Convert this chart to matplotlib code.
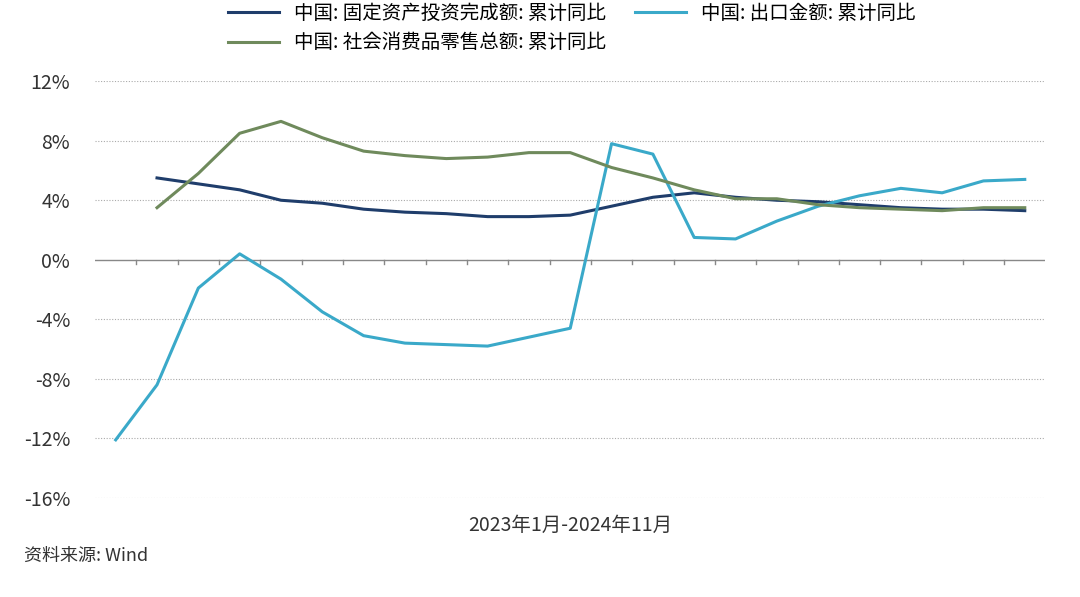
import matplotlib.pyplot as plt
import numpy as np

plt.rcParams['font.family'] = 'sans-serif'
plt.rcParams['font.sans-serif'] = ['Noto Sans CJK SC', 'Noto Sans CJK JP', 'DejaVu Sans']

months = list(range(23))  # 2023-01 .. 2024-11
export_yoy = [-12.1, -8.4, -1.9, 0.4, -1.3, -3.5, -5.1, -5.6, -5.7, -5.8, -5.2, -4.6,
              7.8, 7.1, 1.5, 1.4, 2.6, 3.6, 4.3, 4.8, 4.5, 5.3, 5.4]
fai_yoy = [None, 5.5, 5.1, 4.7, 4.0, 3.8, 3.4, 3.2, 3.1, 2.9, 2.9, 3.0, 3.6,
           4.2, 4.5, 4.2, 4.0, 3.9, 3.7, 3.5, 3.4, 3.4, 3.3]
retail_yoy = [None, 3.5, 5.8, 8.5, 9.3, 8.2, 7.3, 7.0, 6.8, 6.9, 7.2, 7.2, 6.2,
              5.5, 4.7, 4.1, 4.1, 3.7, 3.5, 3.4, 3.3, 3.5, 3.5]
yticks = [12, 8, 4, 0, -4, -8, -12, -16]

fig = plt.figure(figsize=(10.8, 5.97), dpi=100)
ax = fig.add_axes([0.088, 0.166, 0.88, 0.698])

def arr(v):
    return np.array([np.nan if x is None else x for x in v], dtype=float)

l1, = ax.plot(months, arr(fai_yoy), color='#1f3d6b', lw=2.2)
l2, = ax.plot(months, arr(export_yoy), color='#3aa9c9', lw=2.2)
l3, = ax.plot(months, arr(retail_yoy), color='#6f8a5c', lw=2.2)

ax.set_xlim(-0.5, 22.5)
ax.set_ylim(-16, 12)
ax.set_yticks(yticks)
ax.set_yticklabels([f'{t}%' for t in yticks], fontsize=14, color='#333333')
ax.set_xticks([])
for t in yticks:
    if t != 0:
        ax.axhline(t, color='#aaaaaa', lw=0.8, ls=(0, (1, 1.5)), zorder=0)
ax.axhline(0, color='#888888', lw=1, zorder=0)
for i in range(22):
    ax.plot([i + 0.5, i + 0.5], [0, -0.3], color='#888888', lw=1, zorder=0)
for s in ax.spines.values():
    s.set_visible(False)
ax.tick_params(axis='y', length=0, pad=18)

# ncol=2 fills column-wise: FAI / retail in col 1, export in col 2
fig.legend([l1, l3, l2],
           ['中国: 固定资产投资完成额: 累计同比', '中国: 社会消费品零售总额: 累计同比',
            '中国: 出口金额: 累计同比'],
           loc='upper left', bbox_to_anchor=(0.195, 1.025), ncol=2, frameon=False,
           fontsize=14, handlelength=2.6, columnspacing=1.5, labelspacing=0.45)

fig.text(0.528, 0.11, '2023年1月-2024年11月', ha='center', fontsize=14, color='#333333')
fig.text(0.022, 0.06, '资料来源: Wind', ha='left', fontsize=13, color='#333333', style='italic')

fig.savefig('out.png', dpi=100)
